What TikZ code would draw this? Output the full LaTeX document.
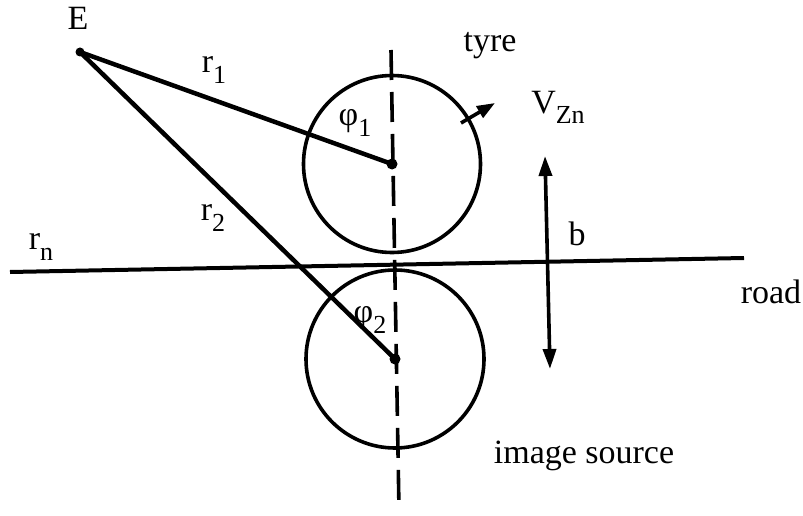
\documentclass[tikz,border=0pt]{standalone}
\usepackage{fontspec}
\setmainfont{Liberation Serif}
\usetikzlibrary{arrows.meta}
\newcommand\lsub[1]{\raisebox{-0.3em}{\fontsize{26}{28}\selectfont #1}}
\begin{document}
\begin{tikzpicture}[x=1pt,y=-1pt,
  thick line/.style={line width=3.6pt},
  lbl/.style={font=\fontsize{34}{38}\selectfont, inner sep=0pt},
  tip/.style={-{Triangle[length=18pt,width=13pt]}},
  dtip/.style={{Triangle[length=20pt,width=13pt]}-{Triangle[length=20pt,width=13pt]}}]
\useasboundingbox (0,0) rectangle (803,516);
% points
\coordinate (E) at (80,52);
\coordinate (c1) at (392,164);
\coordinate (c2) at (395,359);
\coordinate (dtop) at (391,50);
\coordinate (dbot) at (399,510);
\coordinate (roadL) at (10,272);
\coordinate (roadR) at (744,258);
\coordinate (tyA) at (461,123);
\coordinate (tyB) at (495,103);
\coordinate (bA) at (545,156);
\coordinate (bB) at (550,369);
% circles
\node[draw, thick line, circle, minimum size=177pt] (tyre) at (c1) {};
\node[draw, thick line, circle, minimum size=178pt] (img) at (c2) {};
% dashed axis
\draw[thick line, dash pattern=on 30pt off 12pt] (dtop) -- (dbot);
% road
\draw[line width=4pt] (roadL) -- (roadR);
% rays
\draw[line width=4.5pt] (E) -- (c1);
\draw[line width=4.5pt] (E) -- (c2);
\fill (c1) circle (5.5pt);
\fill (c2) circle (5.5pt);
\fill (E) circle (4.5pt);
% arrows
\draw[thick line, tip] (tyA) -- (tyB);
\draw[thick line, dtip] (bA) -- (bB);
% labels
\node[lbl] (lE) at (78,18) {E};
\node[lbl] (lr1) at (214,70) {r\lsub{1}};
\node[lbl] (ltyre) at (490,46) {tyre};
\node[lbl] (lphi1) at (355,123) {φ\lsub{1}};
\node[lbl] (lV) at (558,107) {V\lsub{Zn}};
\node[lbl] (lr2) at (213,218) {r\lsub{2}};
\node[lbl] (lb) at (577,234) {b};
\node[lbl] (lrn) at (41,247) {r\lsub{n}};
\node[lbl] (lroad) at (771,292) {road};
\node[lbl] (lphi2) at (370,320) {φ\lsub{2}};
\node[lbl] (limg) at (584,456) {image source};
\end{tikzpicture}
\end{document}
